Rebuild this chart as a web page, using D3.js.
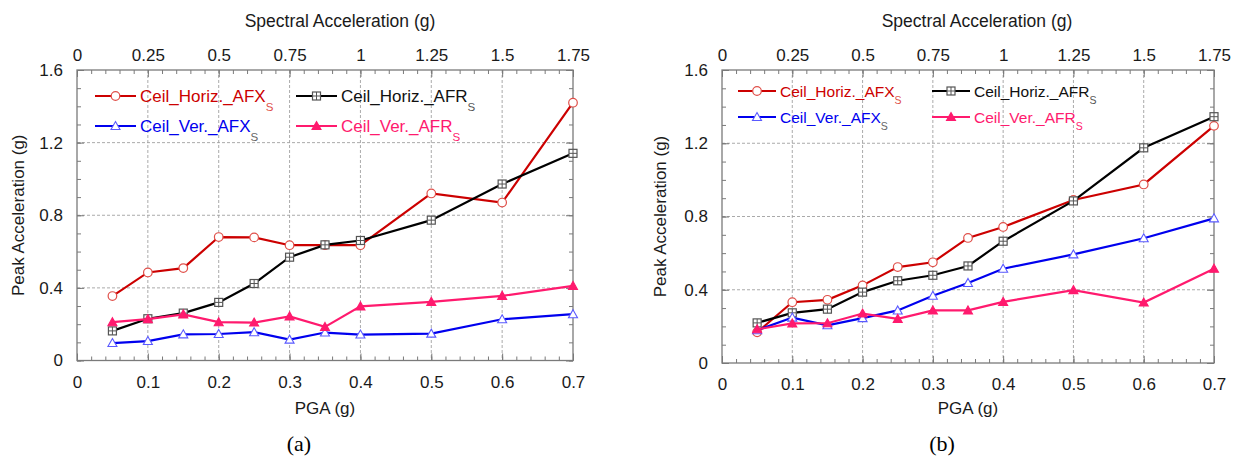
<!DOCTYPE html>
<html>
<head>
<meta charset="utf-8">
<script src="https://cdn.jsdelivr.net/npm/d3@7"></script>
<style>
  html, body { margin: 0; padding: 0; background: #fff; }
  svg { display: block; font-family: "Liberation Sans", Arial, sans-serif; }
</style>
</head>
<body>
<div id="chart"></div>
<script>
// ---------- Data ----------
const pga = [0.05, 0.1, 0.15, 0.2, 0.25, 0.3, 0.35, 0.4, 0.5, 0.6, 0.7];

// panel (a)
const horizAFX_a = [0.355, 0.485, 0.509, 0.68, 0.678, 0.635, 0.635, 0.635, 0.92, 0.87, 1.42];
const horizAFR_a = [0.163, 0.23, 0.261, 0.32, 0.424, 0.569, 0.637, 0.661, 0.773, 0.972, 1.141];
const verAFX_a   = [0.096, 0.107, 0.144, 0.146, 0.156, 0.115, 0.154, 0.143, 0.148, 0.227, 0.255];
const verAFR_a   = [0.211, 0.228, 0.254, 0.211, 0.209, 0.243, 0.185, 0.298, 0.323, 0.356, 0.411];

// panel (b)
const horizAFX_b = [0.168, 0.332, 0.345, 0.424, 0.524, 0.55, 0.683, 0.743, 0.89, 0.975, 1.295];
const horizAFR_b = [0.219, 0.274, 0.294, 0.387, 0.449, 0.479, 0.53, 0.665, 0.885, 1.175, 1.345];
const verAFX_b   = [0.179, 0.248, 0.206, 0.245, 0.287, 0.367, 0.437, 0.515, 0.593, 0.681, 0.79];
const verAFR_b   = [0.184, 0.216, 0.217, 0.27, 0.241, 0.287, 0.287, 0.334, 0.398, 0.33, 0.515];

const bottomTicks = [0, 0.1, 0.2, 0.3, 0.4, 0.5, 0.6, 0.7];
const topTicks = [0, 0.25, 0.5, 0.75, 1, 1.25, 1.5, 1.75];
const yTicks = [0, 0.4, 0.8, 1.2, 1.6];

const seriesNames = ["Ceil_Horiz._AFX", "Ceil_Horiz._AFR", "Ceil_Ver._AFX", "Ceil_Ver._AFR"];

// ---------- Styles ----------
const styles = {
  "Ceil_Horiz._AFX": { line: "#cc0000", mark: "circle", stroke: "#e0504a", fill: "#fff", sub: "#e0504a" },
  "Ceil_Horiz._AFR": { line: "#000000", mark: "square", stroke: "#555", fill: "#fff", sub: "#555" },
  "Ceil_Ver._AFX":   { line: "#0000ee", mark: "triangle", stroke: "#5a5aff", fill: "#fff", sub: "#666" },
  "Ceil_Ver._AFR":   { line: "#ff1a6e", mark: "triangle", stroke: "#ff1a6e", fill: "#ff1a6e", sub: "#ff1a6e" }
};

const labelFont = "17px";

const svg = d3.select("#chart").append("svg")
  .attr("width", 1237)
  .attr("height", 456);

function drawMarker(g, kind, st, x, y) {
  if (kind === "circle") {
    g.append("circle").attr("cx", x).attr("cy", y).attr("r", 4.3)
      .attr("fill", st.fill).attr("stroke", st.stroke).attr("stroke-width", 1.2);
  } else if (kind === "square") {
    g.append("rect").attr("x", x - 4).attr("y", y - 4).attr("width", 8).attr("height", 8)
      .attr("fill", st.fill).attr("stroke", st.stroke).attr("stroke-width", 1.2);
    g.append("path").attr("d", `M${x - 4},${y}H${x + 4}M${x},${y - 4}V${y + 4}`)
      .attr("stroke", st.stroke).attr("stroke-width", 1);
  } else {
    g.append("path")
      .attr("d", `M${x},${y - 4.5}L${x + 4.5},${y + 3.5}L${x - 4.5},${y + 3.5}Z`)
      .attr("fill", st.fill).attr("stroke", st.stroke).attr("stroke-width", 1.1);
  }
}

function drawPanel(cfg) {
  const { left, right, top, bottom, series, legend, tag } = cfg;
  const w = right - left, h = bottom - top;
  const g = svg.append("g").attr("transform", `translate(${left},${top})`);

  const x = d3.scaleLinear().domain([0, 0.7]).range([0, w]);
  const xTop = d3.scaleLinear().domain([0, 1.75]).range([0, w]);
  const y = d3.scaleLinear().domain([0, 1.6]).range([h, 0]);

  // grid
  g.append("g").selectAll("line").data(bottomTicks.slice(1, -1)).join("line")
    .attr("x1", d => x(d)).attr("x2", d => x(d)).attr("y1", 0).attr("y2", h)
    .attr("stroke", "#a0a0a0").attr("stroke-width", 0.9).attr("stroke-dasharray", "3,2");
  g.append("g").selectAll("line").data(yTicks.slice(1, -1)).join("line")
    .attr("x1", 0).attr("x2", w).attr("y1", d => y(d)).attr("y2", d => y(d))
    .attr("stroke", "#a0a0a0").attr("stroke-width", 0.9).attr("stroke-dasharray", "3,2");

  // minor + major ticks (pointing inward)
  const minorB = d3.range(0, 0.7001, 0.02);
  const minorT = d3.range(0, 1.7501, 0.05);
  const minorY = d3.range(0, 1.6001, 0.1);
  const axes = [
    [d3.axisBottom(x).tickValues(minorB).tickSize(-4).tickFormat(""), `translate(0,${h})`],
    [d3.axisTop(xTop).tickValues(minorT).tickSize(-4).tickFormat(""), null],
    [d3.axisLeft(y).tickValues(minorY).tickSize(-4).tickFormat(""), null],
    [d3.axisRight(y).tickValues(minorY).tickSize(-4).tickFormat(""), `translate(${w},0)`],
    [d3.axisBottom(x).tickValues(bottomTicks).tickSize(-7).tickPadding(15).tickFormat(d3.format("")), `translate(0,${h})`],
    [d3.axisTop(xTop).tickValues(topTicks).tickSize(-7).tickPadding(9).tickFormat(d3.format("")), null],
    [d3.axisLeft(y).tickValues(yTicks).tickSize(-7).tickPadding(14).tickFormat(d3.format("")), null],
    [d3.axisRight(y).tickValues(yTicks).tickSize(-7).tickFormat(""), `translate(${w},0)`]
  ];
  axes.forEach(([ax, tr]) => {
    const a = g.append("g").call(ax);
    if (tr) a.attr("transform", tr);
    a.select(".domain").remove();
    a.selectAll("line").attr("stroke", "#7a7a7a");
    a.selectAll("text").attr("fill", "#1a1a1a").style("font-size", labelFont)
      .style("font-family", "'Liberation Sans', Arial, sans-serif");
  });

  // frame
  g.append("rect").attr("width", w).attr("height", h)
    .attr("fill", "none").attr("stroke", "#7a7a7a").attr("stroke-width", 1.3);

  // series
  const line = d3.line().x(d => x(d[0])).y(d => y(d[1]));
  seriesNames.forEach((name, i) => {
    const st = styles[name];
    const pts = pga.map((p, j) => [p, series[i][j]]);
    g.append("path").datum(pts).attr("d", line)
      .attr("fill", "none").attr("stroke", st.line).attr("stroke-width", 2.2);
    const mg = g.append("g");
    pts.forEach(p => drawMarker(mg, st.mark, st, x(p[0]), y(p[1])));
  });

  // legend
  const cols = [legend.col1, legend.col2];
  seriesNames.forEach((name, i) => {
    const st = styles[name];
    const cx = cols[i % 2];
    const cy = legend.rows[Math.floor(i / 2)];
    const lg = g.append("g");
    lg.append("line").attr("x1", cx).attr("x2", cx + legend.len).attr("y1", cy).attr("y2", cy)
      .attr("stroke", st.line).attr("stroke-width", 2.2);
    drawMarker(lg, st.mark, st, cx + legend.len / 2, cy);
    const t = lg.append("text").attr("x", cx + legend.len + 4).attr("y", cy + legend.fs * 0.38)
      .style("font-size", legend.fs + "px").attr("fill", st.line === "#000000" ? "#111" : st.line);
    t.append("tspan").text(name);
    t.append("tspan").attr("dy", legend.fs * 0.48).style("font-size", (legend.fs * 0.68) + "px")
      .attr("fill", st.sub).text("S");
  });

  // axis titles
  svg.append("text").attr("x", left + w / 2 + tag.titleShift).attr("y", 27)
    .attr("text-anchor", "middle").style("font-size", "17.5px").attr("fill", "#1a1a1a")
    .text("Spectral Acceleration (g)");
  svg.append("text").attr("x", left + w / 2).attr("y", 414)
    .attr("text-anchor", "middle").style("font-size", labelFont).attr("fill", "#1a1a1a")
    .text("PGA (g)");
  svg.append("text")
    .attr("transform", `translate(${left - tag.yTitle},${top + h / 2}) rotate(-90)`)
    .attr("text-anchor", "middle").attr("dy", "0.35em").style("font-size", labelFont).attr("fill", "#1a1a1a")
    .text("Peak Acceleration (g)");
  svg.append("text").attr("x", tag.labelX).attr("y", 451)
    .attr("text-anchor", "middle").style("font-size", "22px")
    .style("font-family", "'Liberation Serif', 'Times New Roman', serif").attr("fill", "#000")
    .text(tag.label);
}

drawPanel({
  left: 77, right: 573, top: 70, bottom: 360.5,
  series: [horizAFX_a, horizAFR_a, verAFX_a, verAFR_a],
  legend: { col1: 18, col2: 219, len: 41, rows: [26, 56], fs: 17 },
  tag: { label: "(a)", labelX: 299, titleShift: 15, yTitle: 59 }
});

drawPanel({
  left: 722, right: 1214, top: 70, bottom: 363,
  series: [horizAFX_b, horizAFR_b, verAFX_b, verAFR_b],
  legend: { col1: 16, col2: 210, len: 38, rows: [21, 47], fs: 15.5 },
  tag: { label: "(b)", labelX: 942, titleShift: 9, yTitle: 62 }
});
</script>
</body>
</html>
